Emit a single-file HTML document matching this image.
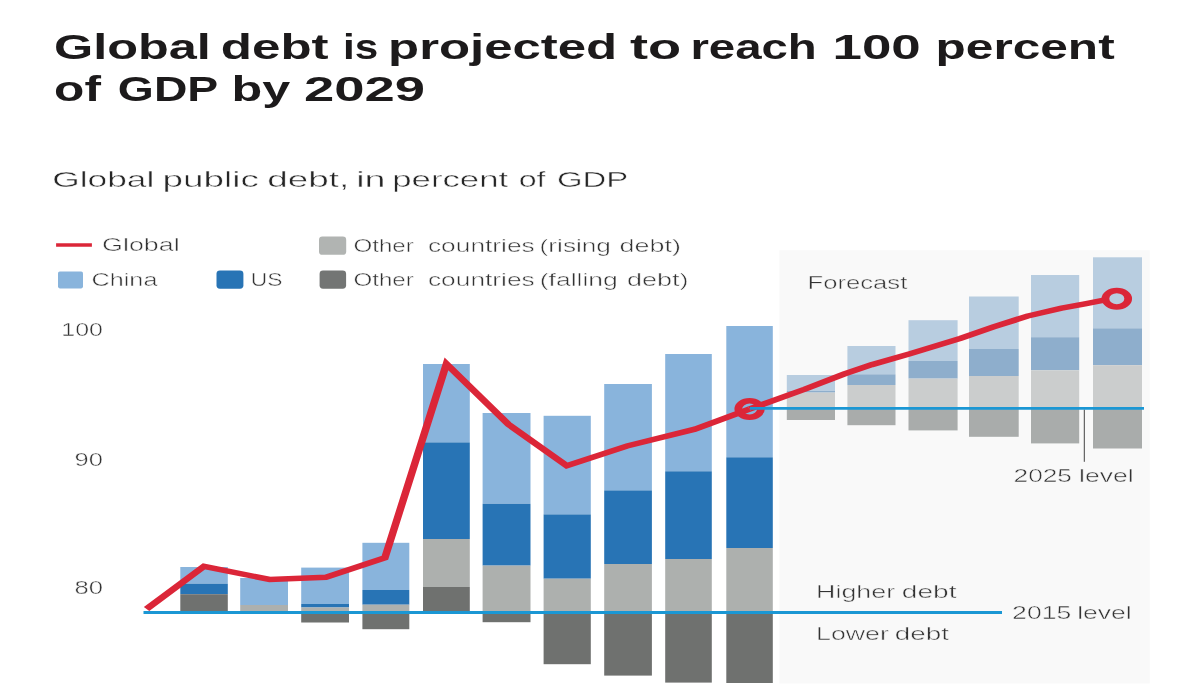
<!DOCTYPE html>
<html lang="en"><head><meta charset="utf-8"><title>Global debt is projected to reach 100 percent of GDP by 2029</title>
<style>
html,body{margin:0;padding:0;background:#fff;}
body{width:1180px;height:688px;overflow:hidden;font-family:"Liberation Sans",sans-serif;}
svg{display:block}
svg text{font-family:"Liberation Sans",sans-serif;}
</style></head><body>
<svg width="1180" height="688" viewBox="0 0 1180 688">
<rect width="1180" height="688" fill="#ffffff"/>
<rect x="779.4" y="250.2" width="370.4" height="433.3" fill="#f9f9f9"/>
<g id="legend">
<line x1="56.1" y1="245" x2="91.9" y2="245" stroke="#db2638" stroke-width="3.6"/>
<rect x="58" y="271.4" width="25" height="17" rx="1.8" fill="#89b4dc"/>
<rect x="216.5" y="270.4" width="26.9" height="18.3" rx="3.4" fill="#2874b5"/>
<rect x="319" y="236.5" width="27.2" height="18.3" rx="3.4" fill="#b1b4b2"/>
<rect x="319.6" y="270.4" width="26.5" height="18.3" rx="3.4" fill="#737574"/>
</g>
<g id="bars">
<rect x="180.3" y="567.0" width="47.5" height="16.7" fill="#89b4dc"/>
<rect x="180.3" y="583.7" width="47.5" height="10.5" fill="#2874b5"/>
<rect x="180.3" y="594.2" width="47.5" height="18.3" fill="#6f716f"/>
<rect x="240.2" y="578.0" width="47.8" height="27.0" fill="#89b4dc"/>
<rect x="240.2" y="605.0" width="47.8" height="7.5" fill="#adb0ae"/>
<rect x="301.2" y="567.6" width="47.8" height="36.4" fill="#89b4dc"/>
<rect x="301.2" y="604.0" width="47.8" height="3.5" fill="#2874b5"/>
<rect x="301.2" y="607.5" width="47.8" height="5.0" fill="#adb0ae"/>
<rect x="301.2" y="612.5" width="47.8" height="10.0" fill="#6f716f"/>
<rect x="362.4" y="542.8" width="46.9" height="47.2" fill="#89b4dc"/>
<rect x="362.4" y="590.0" width="46.9" height="14.7" fill="#2874b5"/>
<rect x="362.4" y="604.7" width="46.9" height="7.8" fill="#adb0ae"/>
<rect x="362.4" y="612.5" width="46.9" height="16.7" fill="#6f716f"/>
<rect x="423.0" y="364.0" width="46.8" height="78.4" fill="#89b4dc"/>
<rect x="423.0" y="442.4" width="46.8" height="96.6" fill="#2874b5"/>
<rect x="423.0" y="539.0" width="46.8" height="48.0" fill="#adb0ae"/>
<rect x="423.0" y="587.0" width="46.8" height="25.5" fill="#6f716f"/>
<rect x="482.6" y="413.0" width="47.9" height="90.8" fill="#89b4dc"/>
<rect x="482.6" y="503.8" width="47.9" height="61.8" fill="#2874b5"/>
<rect x="482.6" y="565.6" width="47.9" height="46.9" fill="#adb0ae"/>
<rect x="482.6" y="612.5" width="47.9" height="9.7" fill="#6f716f"/>
<rect x="543.6" y="415.8" width="47.2" height="98.6" fill="#89b4dc"/>
<rect x="543.6" y="514.4" width="47.2" height="64.3" fill="#2874b5"/>
<rect x="543.6" y="578.7" width="47.2" height="33.8" fill="#adb0ae"/>
<rect x="543.6" y="612.5" width="47.2" height="51.7" fill="#6f716f"/>
<rect x="604.2" y="384.0" width="47.7" height="106.4" fill="#89b4dc"/>
<rect x="604.2" y="490.4" width="47.7" height="73.6" fill="#2874b5"/>
<rect x="604.2" y="564.0" width="47.7" height="48.5" fill="#adb0ae"/>
<rect x="604.2" y="612.5" width="47.7" height="63.1" fill="#6f716f"/>
<rect x="665.2" y="354.0" width="46.6" height="117.3" fill="#89b4dc"/>
<rect x="665.2" y="471.3" width="46.6" height="87.7" fill="#2874b5"/>
<rect x="665.2" y="559.0" width="46.6" height="53.5" fill="#adb0ae"/>
<rect x="665.2" y="612.5" width="46.6" height="70.1" fill="#6f716f"/>
<rect x="726.3" y="326.0" width="46.5" height="131.3" fill="#89b4dc"/>
<rect x="726.3" y="457.3" width="46.5" height="90.7" fill="#2874b5"/>
<rect x="726.3" y="548.0" width="46.5" height="64.5" fill="#adb0ae"/>
<rect x="726.3" y="612.5" width="46.5" height="70.5" fill="#6f716f"/>
</g>
<g id="forecast-bars">
<rect x="786.8" y="375.0" width="48.2" height="15.8" fill="#b8cde0"/>
<rect x="786.8" y="390.8" width="48.2" height="1.8" fill="#8eaecc"/>
<rect x="786.8" y="392.6" width="48.2" height="15.8" fill="#cbcdcd"/>
<rect x="786.8" y="408.4" width="48.2" height="11.6" fill="#a9acab"/>
<rect x="847.4" y="346.0" width="48.1" height="28.3" fill="#b8cde0"/>
<rect x="847.4" y="374.3" width="48.1" height="10.7" fill="#8eaecc"/>
<rect x="847.4" y="385.0" width="48.1" height="23.4" fill="#cbcdcd"/>
<rect x="847.4" y="408.4" width="48.1" height="16.8" fill="#a9acab"/>
<rect x="908.5" y="320.2" width="49.1" height="40.8" fill="#b8cde0"/>
<rect x="908.5" y="361.0" width="49.1" height="17.6" fill="#8eaecc"/>
<rect x="908.5" y="378.6" width="49.1" height="29.8" fill="#cbcdcd"/>
<rect x="908.5" y="408.4" width="49.1" height="22.0" fill="#a9acab"/>
<rect x="969.0" y="296.5" width="49.7" height="52.5" fill="#b8cde0"/>
<rect x="969.0" y="349.0" width="49.7" height="27.0" fill="#8eaecc"/>
<rect x="969.0" y="376.0" width="49.7" height="32.4" fill="#cbcdcd"/>
<rect x="969.0" y="408.4" width="49.7" height="28.4" fill="#a9acab"/>
<rect x="1031.0" y="275.0" width="48.2" height="62.2" fill="#b8cde0"/>
<rect x="1031.0" y="337.2" width="48.2" height="33.1" fill="#8eaecc"/>
<rect x="1031.0" y="370.3" width="48.2" height="38.1" fill="#cbcdcd"/>
<rect x="1031.0" y="408.4" width="48.2" height="35.0" fill="#a9acab"/>
<rect x="1093.0" y="257.3" width="49.0" height="71.0" fill="#b8cde0"/>
<rect x="1093.0" y="328.3" width="49.0" height="36.9" fill="#8eaecc"/>
<rect x="1093.0" y="365.2" width="49.0" height="43.2" fill="#cbcdcd"/>
<rect x="1093.0" y="408.4" width="49.0" height="40.1" fill="#a9acab"/>
</g>
<line x1="143.5" y1="612.6" x2="1002" y2="612.6" stroke="#1b97d4" stroke-width="3"/>
<line x1="1084.3" y1="409.5" x2="1084.3" y2="461.8" stroke="#444" stroke-width="1"/>
<g transform="scale(1.38,1)" fill="none" stroke="#db2638" stroke-width="5.5">
<polyline points="106.2,609.0 147.8,566.3 195.4,579.5 236.2,577.2 278.9,557.8 323.5,363.8 368.5,424.4 410.7,465.8 454.4,446.0 503.6,429.2 543.2,409.0" stroke-linejoin="miter" stroke-miterlimit="10"/>
<polyline points="543.2,409.0 582.8,389.4 612.2,373.8 631.9,364.6 659.4,353.7 695.7,338.5 720.2,326.8 744.8,316.0 769.3,308.2 786.2,303.8 800.0,300.2" stroke-linejoin="round"/>
<circle cx="543.19" cy="409" r="8.2" stroke-width="5.6"/>
<circle cx="809.28" cy="298.7" r="8.25" stroke-width="5.6"/>
</g>
<line x1="750" y1="408.4" x2="1144" y2="408.4" stroke="#1b97d4" stroke-width="2.8"/>
<g id="labels">
<text y="59.0" font-size="35" font-weight="bold" fill="#1c1a1b"><tspan x="53.97" textLength="156.81" lengthAdjust="spacingAndGlyphs">Global</tspan> <tspan x="220.80" textLength="107.80" lengthAdjust="spacingAndGlyphs">debt</tspan> <tspan x="343.00" textLength="35.23" lengthAdjust="spacingAndGlyphs">is</tspan> <tspan x="388.09" textLength="229.02" lengthAdjust="spacingAndGlyphs">projected</tspan> <tspan x="629.95" textLength="51.14" lengthAdjust="spacingAndGlyphs">to</tspan> <tspan x="690.42" textLength="126.41" lengthAdjust="spacingAndGlyphs">reach</tspan> <tspan x="832.60" textLength="88.19" lengthAdjust="spacingAndGlyphs">100</tspan> <tspan x="935.58" textLength="179.09" lengthAdjust="spacingAndGlyphs">percent</tspan></text>
<text y="100.6" font-size="35" font-weight="bold" fill="#1c1a1b"><tspan x="54.11" textLength="46.80" lengthAdjust="spacingAndGlyphs">of</tspan> <tspan x="117.86" textLength="99.51" lengthAdjust="spacingAndGlyphs">GDP</tspan> <tspan x="231.58" textLength="58.78" lengthAdjust="spacingAndGlyphs">by</tspan> <tspan x="304.07" textLength="121.05" lengthAdjust="spacingAndGlyphs">2029</tspan></text>
<text y="186.9" font-size="22.8" font-weight="normal" fill="#262626" stroke="#ffffff" stroke-width="0.45"><tspan x="52.28" textLength="102.08" lengthAdjust="spacingAndGlyphs">Global</tspan> <tspan x="162.60" textLength="96.25" lengthAdjust="spacingAndGlyphs">public</tspan> <tspan x="267.28" textLength="81.98" lengthAdjust="spacingAndGlyphs">debt,</tspan> <tspan x="356.28" textLength="29.31" lengthAdjust="spacingAndGlyphs">in</tspan> <tspan x="392.27" textLength="115.84" lengthAdjust="spacingAndGlyphs">percent</tspan> <tspan x="518.71" textLength="26.82" lengthAdjust="spacingAndGlyphs">of</tspan> <tspan x="556.98" textLength="71.24" lengthAdjust="spacingAndGlyphs">GDP</tspan></text>
<text y="251.4" font-size="19" font-weight="normal" fill="#333333" stroke="#ffffff" stroke-width="0.45"><tspan x="102.11" textLength="77.48" lengthAdjust="spacingAndGlyphs">Global</tspan></text>
<text y="285.8" font-size="19" font-weight="normal" fill="#333333" stroke="#ffffff" stroke-width="0.45"><tspan x="91.55" textLength="65.87" lengthAdjust="spacingAndGlyphs">China</tspan></text>
<text y="285.8" font-size="19" font-weight="normal" fill="#333333" stroke="#ffffff" stroke-width="0.45"><tspan x="250.79" textLength="31.71" lengthAdjust="spacingAndGlyphs">US</tspan></text>
<text y="252.0" font-size="19" font-weight="normal" fill="#333333" stroke="#ffffff" stroke-width="0.45"><tspan x="353.47" textLength="60.24" lengthAdjust="spacingAndGlyphs">Other</tspan> <tspan x="427.96" textLength="106.79" lengthAdjust="spacingAndGlyphs">countries</tspan> <tspan x="539.63" textLength="71.32" lengthAdjust="spacingAndGlyphs">(rising</tspan> <tspan x="619.53" textLength="61.35" lengthAdjust="spacingAndGlyphs">debt)</tspan></text>
<text y="286.0" font-size="19" font-weight="normal" fill="#333333" stroke="#ffffff" stroke-width="0.45"><tspan x="353.47" textLength="60.24" lengthAdjust="spacingAndGlyphs">Other</tspan> <tspan x="427.96" textLength="106.79" lengthAdjust="spacingAndGlyphs">countries</tspan> <tspan x="539.76" textLength="78.14" lengthAdjust="spacingAndGlyphs">(falling</tspan> <tspan x="627.06" textLength="61.55" lengthAdjust="spacingAndGlyphs">debt)</tspan></text>
<text y="289.0" font-size="19" font-weight="normal" fill="#333333" stroke="#f9f9f9" stroke-width="0.45"><tspan x="807.60" textLength="99.67" lengthAdjust="spacingAndGlyphs">Forecast</tspan></text>
<text y="336.3" font-size="19" font-weight="normal" fill="#333333" stroke="#ffffff" stroke-width="0.45"><tspan x="61.37" textLength="41.58" lengthAdjust="spacingAndGlyphs">100</tspan></text>
<text y="465.6" font-size="19" font-weight="normal" fill="#333333" stroke="#ffffff" stroke-width="0.45"><tspan x="74.64" textLength="28.34" lengthAdjust="spacingAndGlyphs">90</tspan></text>
<text y="594.4" font-size="19" font-weight="normal" fill="#333333" stroke="#ffffff" stroke-width="0.45"><tspan x="74.57" textLength="28.48" lengthAdjust="spacingAndGlyphs">80</tspan></text>
<text y="482.1" font-size="19" font-weight="normal" fill="#333333" stroke="#f9f9f9" stroke-width="0.45"><tspan x="1013.59" textLength="58.42" lengthAdjust="spacingAndGlyphs">2025</tspan> <tspan x="1079.11" textLength="54.55" lengthAdjust="spacingAndGlyphs">level</tspan></text>
<text y="618.6" font-size="19" font-weight="normal" fill="#333333" stroke="#f9f9f9" stroke-width="0.45"><tspan x="1012.13" textLength="59.09" lengthAdjust="spacingAndGlyphs">2015</tspan> <tspan x="1077.22" textLength="54.52" lengthAdjust="spacingAndGlyphs">level</tspan></text>
<text y="598.0" font-size="19" font-weight="normal" fill="#333333" stroke="#f9f9f9" stroke-width="0.45"><tspan x="816.05" textLength="79.11" lengthAdjust="spacingAndGlyphs">Higher</tspan> <tspan x="901.79" textLength="54.70" lengthAdjust="spacingAndGlyphs">debt</tspan></text>
<text y="640.4" font-size="19" font-weight="normal" fill="#333333" stroke="#f9f9f9" stroke-width="0.45"><tspan x="816.06" textLength="72.77" lengthAdjust="spacingAndGlyphs">Lower</tspan> <tspan x="894.87" textLength="54.09" lengthAdjust="spacingAndGlyphs">debt</tspan></text>
</g>
</svg>
</body></html>
